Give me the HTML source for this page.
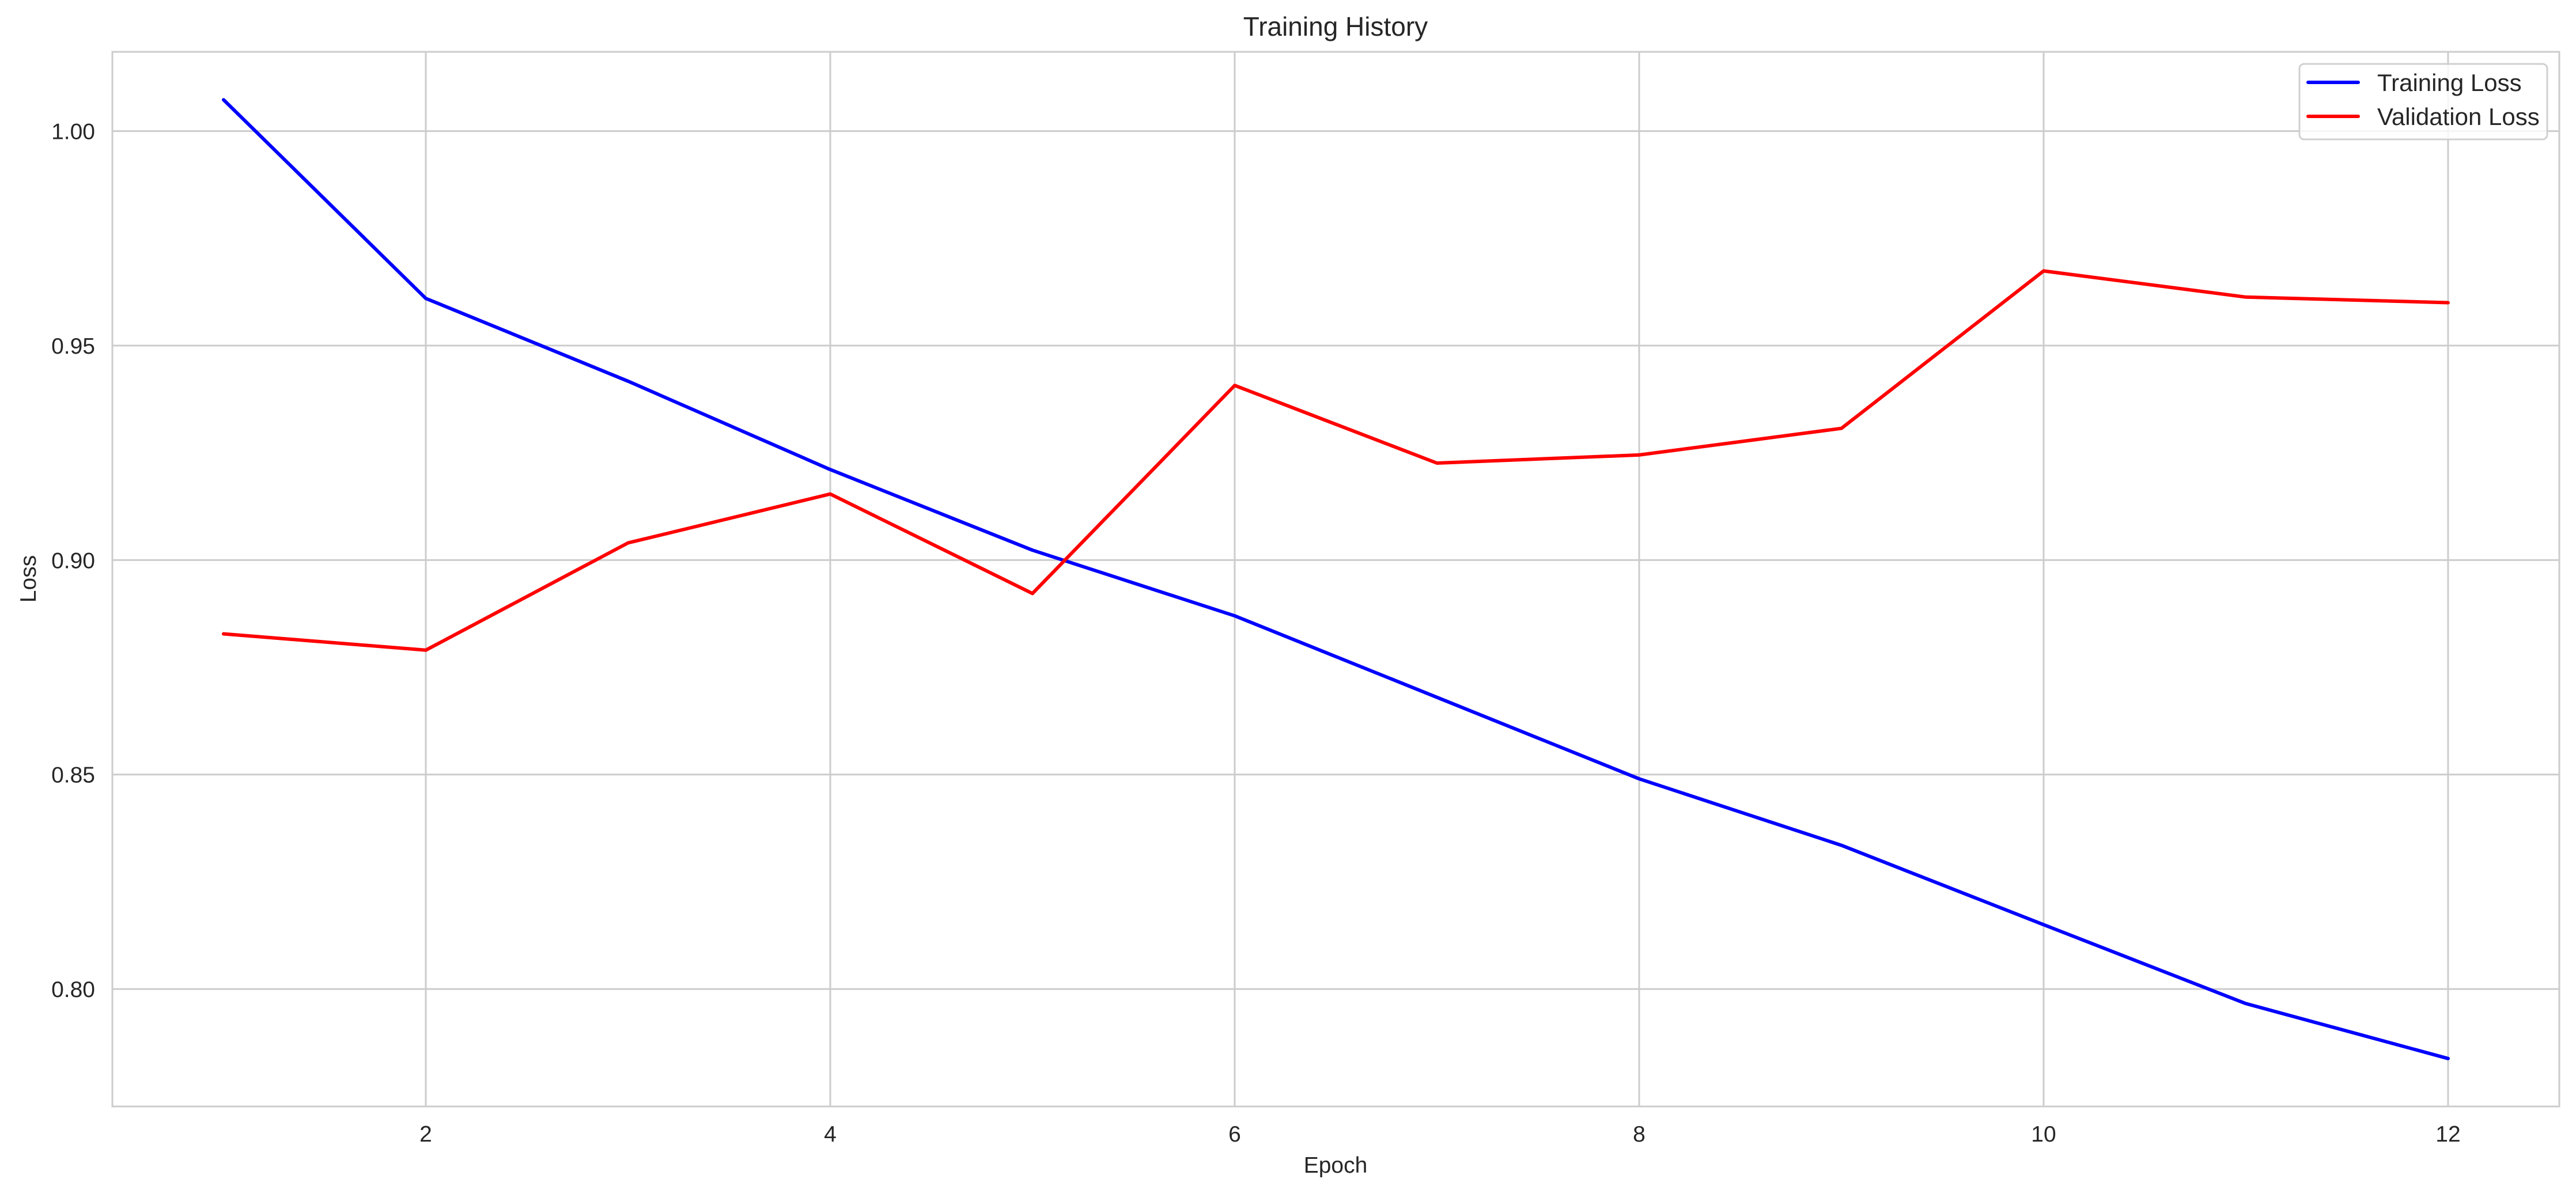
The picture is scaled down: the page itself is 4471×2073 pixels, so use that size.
<!DOCTYPE html>
<html><head><meta charset="utf-8"><style>
html,body{margin:0;padding:0;background:#fff;}
svg{display:block;font-family:"Liberation Sans",sans-serif;}
</style></head><body>
<svg id="chart" width="4471" height="2073" viewBox="0 0 4471 2073" xmlns="http://www.w3.org/2000/svg">
<rect x="0" y="0" width="4471" height="2073" fill="#fff"/>
<g id="grid"></g>
<g id="ticks"></g>
<rect x="195" y="90" width="4247" height="1831" fill="none" stroke="#cccccc" stroke-width="3"/>
<g id="series"></g>
<text x="2318" y="62" font-size="46" text-anchor="middle" fill="#262626">Training History</text>
<text x="2318" y="2036" font-size="39" text-anchor="middle" fill="#262626">Epoch</text>
<text x="62" y="1005" font-size="39" text-anchor="middle" fill="#262626" transform="rotate(-90 62 1005)">Loss</text>
<g>
<rect x="3991" y="111" width="430" height="131" rx="8" fill="#fff" fill-opacity="0.8" stroke="#d0d0d0" stroke-width="3"/>
<line x1="4006" y1="143" x2="4093" y2="143" stroke="#0000ff" stroke-width="6" stroke-linecap="round"/>
<text x="4126" y="158" font-size="42" fill="#262626">Training Loss</text>
<line x1="4006" y1="202" x2="4093" y2="202" stroke="#ff0000" stroke-width="6" stroke-linecap="round"/>
<text x="4126" y="217" font-size="42" fill="#262626">Validation Loss</text>
</g>
</svg>
<script>
const epochs = [1,2,3,4,5,6,7,8,9,10,11,12];
const trainingLoss = [1.0073,0.961,0.9417,0.9211,0.9023,0.887,0.868,0.849,0.8335,0.815,0.7966,0.7838];
const validationLoss = [0.8828,0.879,0.904,0.9154,0.8922,0.9407,0.9226,0.9245,0.9307,0.9674,0.9613,0.960];
const xTickValues = [2,4,6,8,10,12];
const yTickValues = [0.80,0.85,0.90,0.95,1.00];
const yTickLabels = ["0.80","0.85","0.90","0.95","1.00"];

const NS = "http://www.w3.org/2000/svg";
const L=195,R=4442,T=90,B=1921;
const allV = trainingLoss.concat(validationLoss);
const xmin=Math.min(...epochs), xmax=Math.max(...epochs), xm=(xmax-xmin)*0.05;
const ymin=Math.min(...allV), ymax=Math.max(...allV), ym=(ymax-ymin)*0.05;
function xs(v){return L+(v-(xmin-xm))/((xmax+xm)-(xmin-xm))*(R-L);}
function ys(v){return B-(v-(ymin-ym))/((ymax+ym)-(ymin-ym))*(B-T);}
function mk(tag,attrs,parent){const e=document.createElementNS(NS,tag);for(const k in attrs)e.setAttribute(k,attrs[k]);parent.appendChild(e);return e;}
const grid=document.getElementById('grid'), ticks=document.getElementById('ticks'), series=document.getElementById('series');
xTickValues.forEach(v=>{
  const g=mk('line',{x1:xs(v),x2:xs(v),y1:T,y2:B,stroke:'#cccccc','stroke-width':3},grid);
  
  
  const t=mk('text',{x:xs(v),y:1982,'font-size':39,'text-anchor':'middle',fill:'#262626'},ticks);
  t.textContent=String(v);
  
  
});
yTickValues.forEach((v,i)=>{
  const g=mk('line',{x1:L,x2:R,y1:ys(v),y2:ys(v),stroke:'#cccccc','stroke-width':3},grid);
  
  
  const t=mk('text',{x:165,y:ys(v)+14,'font-size':39,'text-anchor':'end',fill:'#262626'},ticks);
  t.textContent=yTickLabels[i];
  
  
});
function line(vals){
  return epochs.map((e,i)=>xs(e).toFixed(1)+','+ys(vals[i]).toFixed(1)).join(' ');
}
const p1=mk('polyline',{points:line(trainingLoss),fill:'none',stroke:'#0000ff','stroke-width':6,'stroke-linejoin':'round','stroke-linecap':'round'},series);


const p2=mk('polyline',{points:line(validationLoss),fill:'none',stroke:'#ff0000','stroke-width':6,'stroke-linejoin':'round','stroke-linecap':'round'},series);


</script>
</body></html>
